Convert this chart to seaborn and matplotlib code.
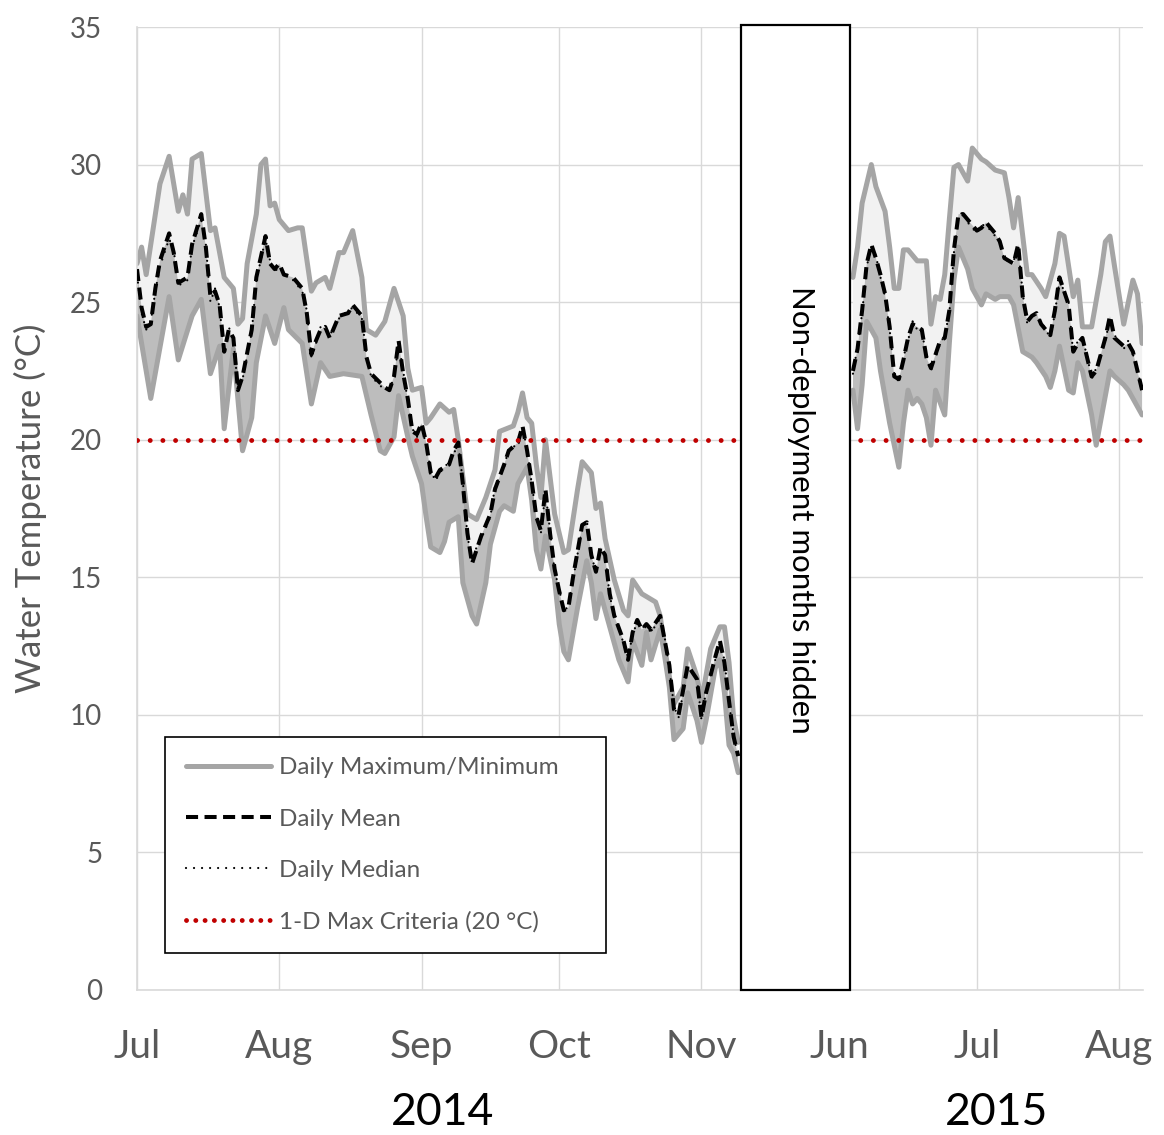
import numpy as np
import pandas as pd
import matplotlib
matplotlib.use("Agg")
import matplotlib.pyplot as plt
import matplotlib.transforms as mtransforms
from matplotlib.lines import Line2D
from matplotlib.patches import Rectangle
import seaborn as sns

# ---------------- data ----------------
# 2014 season: days since 2014-07-01
max14_days = [0, 1, 2, 5, 7, 9, 10, 11, 12, 14, 16, 17, 19, 20, 21, 22, 23, 24, 26, 27,
              28, 29, 30, 31, 32, 33, 35, 36, 38, 39, 41, 42, 44, 45, 47, 49, 50, 52, 54, 56,
              58, 59, 60, 62, 63, 64, 66, 68, 69, 70, 72, 74, 76, 78, 79, 82, 83, 84, 85, 86,
              87, 88, 89, 91, 92, 93, 94, 96, 97, 99, 100, 101, 102, 104, 106, 107, 108, 110, 112, 113,
              114, 115, 117, 119, 120, 122, 123, 125, 127, 128, 129, 130, 131]
max14_vals = [26.4, 27.0, 26.0, 29.3, 30.3, 28.3, 28.9, 28.2, 30.2, 30.4, 27.6, 27.7, 25.9, 25.7, 25.5, 24.2, 24.4, 26.4, 28.2, 30.0,
              30.2, 28.5, 28.6, 28.0, 27.8, 27.6, 27.7, 27.7, 25.4, 25.7, 25.9, 25.5, 26.8, 26.8, 27.6, 25.9, 24.0, 23.8, 24.3, 25.5,
              24.5, 22.6, 21.8, 21.9, 20.6, 20.8, 21.3, 21.0, 21.1, 20.0, 17.3, 17.1, 17.9, 18.9, 20.3, 20.5, 21.0, 21.7, 20.8, 20.6,
              19.1, 17.9, 20.0, 17.3, 16.6, 15.9, 16.0, 18.2, 19.2, 18.8, 17.5, 17.7, 16.4, 14.9, 13.8, 13.6, 14.9, 14.4, 14.2, 14.1,
              13.6, 12.4, 10.4, 11.0, 12.4, 11.4, 10.5, 12.4, 13.2, 13.2, 11.9, 9.9, 9.0]

mean14_days = [0, 1, 2, 3, 4, 5, 7, 8, 9, 11, 12, 14, 15, 16, 17, 18, 19, 20, 21, 22,
               23, 25, 26, 28, 29, 30, 31, 32, 34, 36, 37, 38, 39, 40, 41, 42, 44, 46, 47, 49,
               50, 51, 54, 55, 56, 57, 58, 59, 60, 61, 62, 63, 64, 65, 66, 68, 69, 70, 71, 72,
               73, 74, 75, 77, 78, 80, 81, 83, 84, 85, 86, 87, 88, 89, 90, 91, 92, 93, 94, 95,
               97, 98, 99, 100, 101, 102, 103, 104, 106, 107, 108, 109, 110, 111, 112, 114, 115, 116, 117, 118,
               119, 120, 122, 123, 124, 126, 127, 128, 129, 130, 131]
mean14_vals = [26.2, 24.8, 24.1, 24.2, 25.5, 26.5, 27.5, 26.8, 25.7, 25.9, 27.1, 28.2, 27.0, 25.2, 25.4, 24.9, 23.2, 24.0, 23.7, 21.8,
               22.3, 24.0, 25.9, 27.4, 26.4, 26.2, 26.4, 26.0, 25.9, 25.5, 24.6, 23.1, 23.6, 24.0, 24.1, 23.7, 24.5, 24.6, 24.9, 24.5,
               23.0, 22.4, 21.9, 21.8, 22.3, 23.6, 22.4, 21.5, 20.3, 20.2, 20.6, 19.9, 18.8, 18.6, 18.9, 19.1, 19.6, 19.9, 18.4, 16.6,
               15.5, 16.0, 16.5, 17.3, 18.2, 19.1, 19.6, 19.9, 20.5, 19.6, 18.5, 17.2, 16.7, 18.2, 16.6, 15.3, 14.5, 13.8, 13.9, 15.0,
               16.9, 17.0, 15.8, 15.2, 16.1, 15.8, 14.4, 13.6, 12.7, 12.0, 13.0, 13.45, 13.1, 13.3, 13.1, 13.6, 12.7, 11.8, 10.2, 10.0,
               10.9, 11.8, 11.3, 9.9, 10.8, 12.1, 12.7, 11.9, 10.5, 9.2, 8.5]
median14_vals = [26.0, 24.6, 24.0, 24.3, 25.4, 26.3, 27.3, 26.9, 25.6, 25.8, 27.0, 28.0, 27.1, 25.0, 25.5, 24.8, 23.1, 24.1, 23.6, 21.9,
                 22.2, 23.9, 25.8, 27.3, 26.5, 26.1, 26.3, 26.1, 25.8, 25.4, 24.7, 23.0, 23.5, 24.1, 24.0, 23.8, 24.4, 24.7, 24.8, 24.4,
                 23.1, 22.3, 21.8, 21.9, 22.2, 23.5, 22.5, 21.4, 20.4, 20.1, 20.5, 19.8, 18.9, 18.5, 18.8, 19.2, 19.5, 19.8, 18.5, 16.5,
                 15.6, 16.1, 16.4, 17.2, 18.3, 19.0, 19.7, 19.8, 20.4, 19.7, 18.4, 17.3, 16.6, 18.1, 16.7, 15.2, 14.6, 13.7, 14.0, 14.9,
                 16.8, 17.1, 15.7, 15.3, 16.0, 15.9, 14.3, 13.7, 12.6, 12.1, 12.9, 13.4, 13.2, 13.2, 13.0, 13.5, 12.8, 11.7, 10.3, 9.9,
                 10.8, 11.7, 11.4, 9.8, 10.9, 12.0, 12.6, 12.0, 10.4, 9.3, 8.4]

min14_days = [0, 3, 7, 9, 12, 14, 16, 18, 19, 21, 23, 25, 26, 28, 30, 32, 33, 36, 38, 40,
              42, 45, 49, 51, 53, 54, 56, 57, 59, 60, 62, 63, 64, 66, 67, 68, 70, 71, 73, 74,
              76, 77, 79, 80, 82, 83, 85, 86, 87, 88, 89, 91, 92, 93, 94, 96, 98, 99, 100, 101,
              103, 105, 107, 108, 110, 111, 112, 114, 115, 116, 117, 119, 120, 122, 123, 124, 126, 127, 128, 129,
              130, 131]
min14_vals = [24.5, 21.5, 25.2, 22.9, 24.5, 25.1, 22.4, 23.4, 20.4, 23.3, 19.6, 20.8, 22.8, 24.5, 23.5, 24.8, 24.0, 23.5, 21.3, 22.8,
              22.3, 22.4, 22.3, 20.9, 19.6, 19.5, 20.1, 21.6, 20.1, 19.4, 18.4, 17.2, 16.1, 15.9, 16.3, 17.0, 17.2, 14.8, 13.6, 13.3,
              14.8, 16.2, 17.4, 17.6, 17.4, 18.4, 19.0, 17.8, 16.0, 15.3, 16.5, 14.9, 13.3, 12.3, 12.0, 13.9, 15.6, 14.8, 13.5, 14.4,
              13.2, 12.0, 11.2, 12.7, 11.8, 13.0, 12.0, 13.1, 12.1, 11.0, 9.1, 9.5, 10.8, 9.8, 9.0, 9.8, 11.7, 12.0, 10.8, 8.9,
              8.6, 7.9]

# 2015 season: days since 2015-06-01
max15_days = [3, 4, 5, 7, 8, 10, 11, 12, 13, 14, 15, 17, 19, 20, 21, 22, 23, 24, 25, 26,
              28, 29, 31, 32, 34, 36, 37, 38, 39, 40, 41, 42, 44, 45, 47, 48, 49, 51, 52, 53,
              55, 57, 58, 59, 60, 62, 64, 65, 66]
max15_vals = [25.9, 27.0, 28.6, 30.0, 29.2, 28.3, 27.0, 25.5, 25.5, 26.9, 26.9, 26.5, 26.5, 24.2, 25.2, 25.1, 26.0, 28.0, 29.9, 30.0,
              29.4, 30.6, 30.2, 30.1, 29.8, 29.7, 28.8, 27.7, 28.8, 27.4, 26.0, 26.0, 25.5, 25.2, 26.4, 27.5, 27.4, 25.2, 25.8, 24.1,
              24.1, 26.0, 27.2, 27.4, 26.3, 24.2, 25.8, 25.3, 23.5]

mean15_days = [3, 4, 5, 6, 7, 8, 9, 10, 11, 12, 13, 14, 15, 16, 17, 18, 19, 20, 22, 23,
               24, 25, 26, 27, 28, 30, 31, 32, 34, 35, 36, 38, 39, 40, 41, 42, 43, 44, 46, 47,
               48, 50, 51, 52, 53, 54, 55, 56, 58, 59, 60, 62, 63, 64, 65, 66]
mean15_vals = [22.5, 23.3, 24.7, 26.4, 27.1, 26.6, 26.0, 25.3, 24.1, 22.3, 22.2, 22.9, 23.7, 24.2, 24.1, 24.0, 23.0, 22.6, 23.6, 23.7,
               24.7, 26.9, 28.2, 28.2, 28.0, 27.6, 27.7, 27.9, 27.5, 27.2, 26.6, 26.4, 27.1, 25.2, 24.3, 24.5, 24.6, 24.2, 23.8, 24.7,
               25.9, 24.9, 23.2, 23.5, 23.7, 23.0, 22.3, 22.5, 23.7, 24.5, 23.7, 23.4, 23.5, 23.2, 22.5, 21.8]
median15_vals = [22.4, 23.4, 24.6, 26.3, 27.0, 26.7, 25.9, 25.2, 24.0, 22.4, 22.1, 23.0, 23.6, 24.3, 24.0, 23.9, 23.1, 22.5, 23.5, 23.8,
                 24.6, 26.8, 28.1, 28.3, 27.9, 27.5, 27.8, 27.8, 27.4, 27.3, 26.5, 26.5, 27.0, 25.3, 24.2, 24.6, 24.5, 24.3, 23.7, 24.6,
                 25.8, 25.0, 23.1, 23.6, 23.6, 23.1, 22.2, 22.6, 23.6, 24.4, 23.8, 23.3, 23.6, 23.1, 22.6, 21.7]

min15_days = [3, 4, 5, 6, 8, 9, 11, 13, 14, 15, 16, 17, 18, 19, 20, 21, 23, 24, 25, 26,
              28, 29, 31, 32, 34, 35, 37, 38, 40, 42, 43, 45, 46, 47, 48, 50, 51, 52, 53, 55,
              56, 57, 59, 60, 62, 63, 66]
min15_vals = [21.8, 20.4, 22.0, 24.3, 23.7, 22.5, 20.6, 19.0, 20.6, 21.8, 21.3, 21.5, 21.3, 20.8, 19.8, 21.8, 20.9, 23.5, 25.8, 27.0,
              26.2, 25.5, 24.9, 25.3, 25.1, 25.2, 25.2, 24.9, 23.2, 23.0, 22.8, 22.3, 21.9, 22.5, 23.4, 21.8, 21.7, 22.8, 22.5, 20.9,
              19.8, 20.7, 22.5, 22.3, 22.0, 21.8, 20.9]

criteria = 20.0
month_labels = ["Jul", "Aug", "Sep", "Oct", "Nov", "Jun", "Jul", "Aug"]
month_starts = [("2014", 0), ("2014", 31), ("2014", 62), ("2014", 92), ("2014", 123),
                ("2015", 0), ("2015", 30), ("2015", 61)]
year_labels = ["2014", "2015"]
legend_labels = ["Daily Maximum/Minimum", "Daily Mean", "Daily Median", "1-D Max Criteria (20 \u00b0C)"]

# ---------------- broken time axis (Dec–May not shown) ----------------
JUN2015_POS = 153  # 2015-06-01 placed right after 2014-11-30


def axis_pos(season, days):
    d = np.asarray(days, dtype=float)
    return d if season == "2014" else JUN2015_POS + d


# ---------------- styling ----------------
sns.set_theme(style="white")
plt.rcParams["font.family"] = ["Lato", "DejaVu Sans"]

GRAY_LINE = "#a5a5a5"
LIGHT_FILL = "#f2f2f2"
DARK_FILL = "#bdbdbd"
GRID = "#d9d9d9"
TXT = "#595959"
RED = "#c00000"

MEAN_LS = (0, (3.0, 1.6))
MED_LS = (0, (0.01, 3.6))
CRIT_LS = (0, (0.01, 2.6))

fig = plt.figure(figsize=(11.64, 11.35), dpi=100)
fig.patch.set_facecolor("white")
ax = fig.add_axes([137 / 1164, 1 - 990 / 1135, 1006 / 1164, 963 / 1135])
ax.set_facecolor("white")

seasons = {
    "2014": dict(maxd=max14_days, maxv=max14_vals, meand=mean14_days, meanv=mean14_vals,
                 medv=median14_vals, mind=min14_days, minv=min14_vals),
    "2015": dict(maxd=max15_days, maxv=max15_vals, meand=mean15_days, meanv=mean15_vals,
                 medv=median15_vals, mind=min15_days, minv=min15_vals),
}

for season, s in seasons.items():
    assert len(s["maxd"]) == len(s["maxv"])
    assert len(s["meand"]) == len(s["meanv"]) == len(s["medv"])
    assert len(s["mind"]) == len(s["minv"])
    xmax, xmean, xmin = axis_pos(season, s["maxd"]), axis_pos(season, s["meand"]), axis_pos(season, s["mind"])
    vmax, vmean, vmin = np.array(s["maxv"]), np.array(s["meanv"]), np.array(s["minv"])

    # shaded bands: mean..max (light) and min..mean (darker)
    ax.fill(np.r_[xmax, xmean[::-1]], np.r_[vmax, vmean[::-1]], color=LIGHT_FILL, lw=0, zorder=1)
    ax.fill(np.r_[xmean, xmin[::-1]], np.r_[vmean, vmin[::-1]], color=DARK_FILL, lw=0, zorder=1)

    for xx, vv in ((xmax, vmax), (xmin, vmin)):
        sns.lineplot(x=xx, y=vv, ax=ax, color=GRAY_LINE, linewidth=3.6, estimator=None,
                     sort=False, legend=False, zorder=2)
        ax.lines[-1].set_solid_joinstyle("round")

    df = pd.DataFrame({"x": xmean, "mean": vmean, "median": s["medv"]})
    sns.lineplot(data=df, x="x", y="median", ax=ax, color="black", linewidth=1.6,
                 estimator=None, sort=False, legend=False, zorder=3)
    ax.lines[-1].set_linestyle(MED_LS)
    ax.lines[-1].set_dash_capstyle("round")
    sns.lineplot(data=df, x="x", y="mean", ax=ax, color="black", linewidth=2.9,
                 estimator=None, sort=False, legend=False, zorder=4)
    ax.lines[-1].set_linestyle(MEAN_LS)

# criteria line
crit = ax.axhline(criteria, color=RED, linewidth=3.5, zorder=5)
crit.set_linestyle(CRIT_LS)
crit.set_dash_capstyle("round")

# box masking the non-deployment months
BOX_L, BOX_R, BOX_TOP = 131.6, 155.4, 35.08
ax.add_patch(Rectangle((BOX_L, 0), BOX_R - BOX_L, BOX_TOP, facecolor="white", edgecolor="black",
                       linewidth=1.6, zorder=6, clip_on=False))
ax.text(144.6, 17.45, "Non-deployment months hidden", rotation=-90, ha="center", va="center",
        fontsize=22.5, color="black", zorder=7)

# axes
ax.set_xlim(0, 219.2)
ax.set_ylim(0, 35)
tick_pos = [float(axis_pos(season, d)) for season, d in month_starts]
ax.set_xticks(tick_pos)
ax.set_xticklabels(month_labels)
ax.set_yticks(np.arange(0, 36, 5))
ax.set_yticklabels([str(v) for v in range(0, 36, 5)])
ax.grid(True, color=GRID, linewidth=1.0, zorder=0)
ax.set_axisbelow(True)
for side in ("top", "right"):
    ax.spines[side].set_visible(False)
for side in ("left", "bottom"):
    ax.spines[side].set_color(GRID)
    ax.spines[side].set_linewidth(1.2)
ax.tick_params(axis="x", length=0, pad=28, labelsize=28, labelcolor=TXT)
ax.tick_params(axis="y", length=0, pad=25, labelsize=20, labelcolor=TXT)

ax.set_xlabel("")
ax.set_ylabel("Water Temperature (\u00b0C)", fontsize=25, color=TXT, va="center")
ax.yaxis.set_label_coords(-0.106, 0.5)

trans = mtransforms.blended_transform_factory(ax.transData, ax.transAxes)
ax.text(66.5, -0.127, year_labels[0], transform=trans, ha="center", va="center",
        fontsize=32, color="black")
ax.text(187.4, -0.127, year_labels[1], transform=trans, ha="center", va="center",
        fontsize=32, color="black")

# legend
h_minmax = Line2D([], [], color=GRAY_LINE, linewidth=3.6)
h_mean = Line2D([], [], color="black", linewidth=2.9, linestyle=MEAN_LS)
h_med = Line2D([], [], color="black", linewidth=1.6, linestyle=MED_LS, dash_capstyle="round")
h_crit = Line2D([], [], color=RED, linewidth=3.5, linestyle=(0, (0.01, 1.9)), dash_capstyle="round")
leg = ax.legend([h_minmax, h_mean, h_med, h_crit], legend_labels,
                loc="lower left", bbox_to_anchor=(0.0278, 0.0384, 0.438, 0.228), mode="expand",
                borderaxespad=0, fontsize=17.5, frameon=True, fancybox=False, framealpha=1,
                edgecolor="black", handlelength=3.5, handletextpad=0.33, borderpad=0.85,
                labelspacing=1.24)
leg.get_frame().set_linewidth(1.2)
leg.set_zorder(8)
for t in leg.get_texts():
    t.set_color(TXT)

fig.savefig("out.png", dpi=100, facecolor="white")
